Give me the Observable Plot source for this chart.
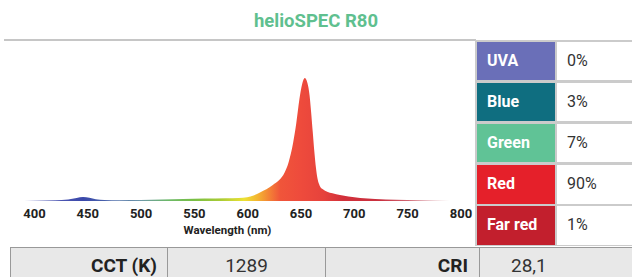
<!DOCTYPE html>
<html><head><meta charset="utf-8">
<script src="https://cdn.jsdelivr.net/npm/d3@7"></script>
<script src="https://cdn.jsdelivr.net/npm/@observablehq/plot@0.6"></script>
<style>
html,body{margin:0;padding:0}
body{width:632px;height:277px;overflow:hidden;background:#fff;font-family:Roboto,sans-serif;position:relative}
#title{position:absolute;left:0;top:10px;width:632px;text-align:center;font-weight:700;font-size:18.5px;line-height:22px;color:#5fc08f}
#rule{position:absolute;left:4px;top:38.5px;width:472px;height:2px;background:#c6c6c6}
#chart{position:absolute;left:0;top:42px}
#bands{position:absolute;left:475px;top:39.5px;width:157px;height:206px;background:#cbcbcb}
.lab{position:absolute;left:2px;width:78px;height:38.5px;line-height:38.5px;color:#fff;font-weight:700;font-size:16px;box-sizing:border-box;padding-left:10px}
.val{position:absolute;left:82px;width:75px;height:38.5px;line-height:38.5px;color:#333;font-size:16px;background:#fff;box-sizing:border-box;padding-left:10px}
#metrics{position:absolute;left:10px;top:246.5px;width:622px;height:40px;background:#e8e8e8;border-top:1px solid #999;border-left:1px solid #999}
.mc{position:absolute;top:0;height:36px;line-height:36px;font-size:19px;color:#333;box-sizing:border-box;border-right:1px solid #999}
</style>
</head><body>
<div id="title">helioSPEC R80</div>
<div id="rule"></div>
<div id="chart"></div>
<div id="bands"></div>
<div id="metrics"></div>
<script>
// Spectrum (relative intensity, peak = 1)
const wavelength = [382,400,420,432,440,446,452,458,466,480,500,520,540,560,580,592,600,606,612,618,624,630,635,639,643,646,649,651.5,654,656.5,658.5,660,661.5,663,664.5,666,668,671,675,680,687,695,706,720,740,760,780,800];
const intensity  = [0,0.003,0.006,0.012,0.025,0.033,0.027,0.014,0.009,0.007,0.008,0.012,0.017,0.02,0.022,0.025,0.03,0.045,0.07,0.095,0.13,0.17,0.23,0.32,0.47,0.63,0.83,0.95,1.0,0.96,0.86,0.72,0.56,0.4,0.27,0.18,0.125,0.095,0.076,0.062,0.048,0.036,0.024,0.016,0.01,0.006,0.003,0];
const xTicks = [400,450,500,550,600,650,700,750,800];
const axisLabel = "Wavelength (nm)";

// Band shares
const bandNames  = ["UVA","Blue","Green","Red","Far red"];
const bandShares = ["0%","3%","7%","90%","1%"];
const bandColors = ["#6a6fb8","#0f6e80","#60c396","#e5202a","#c21f2d"];

// Metrics
const metricNames  = ["CCT (K)","CRI"];
const metricValues = ["1289","28,1"];

// Spectral colour stops for the fill
const specStops = [[382,"#7a80c8"],[425,"#4c56b2"],[446,"#3a48aa"],[470,"#4a66ac"],[500,"#6f98a8"],[525,"#6cb86a"],[550,"#78bf45"],[575,"#a9cb35"],[597,"#ece233"],[610,"#f4b331"],[622,"#f37c36"],[631,"#f0553a"],[650,"#ee4b3c"],[672,"#e6423c"],[690,"#d2303a"],[725,"#c9303f"],[765,"#d4828e"],[800,"#e6caca"]];

const data = wavelength.map((nm, i) => ({nm, v: intensity[i]}));
const x0 = wavelength[0], x1 = wavelength[wavelength.length - 1];

const plot = Plot.plot({
  width: 476, height: 203,
  marginLeft: 14.8, marginRight: 15.6, marginTop: 36, marginBottom: 44,
  x: {domain: [x0, x1]},
  y: {domain: [0, 1], axis: null},
  style: "font-family:Roboto,sans-serif;font-size:12.5px;font-weight:700;color:#222;background:transparent;overflow:visible",
  marks: [
    Plot.areaY(data, {x: "nm", y: "v", fill: "url(#spec)", curve: "monotone-x"}),
    Plot.axisX({ticks: xTicks, tickSize: 0, tickPadding: 7.5, label: null, fontSize: 13, fontWeight: 700, fill: "#222"}),
    Plot.text([axisLabel], {frameAnchor: "bottom", dy: 32.5, dx: -10.6, fontSize: 11.5, fontWeight: 700, fill: "#222"})
  ]
});

const xs = plot.scale("x");
const ns = "http://www.w3.org/2000/svg";
const defs = document.createElementNS(ns, "defs");
const grad = document.createElementNS(ns, "linearGradient");
grad.setAttribute("id", "spec");
grad.setAttribute("gradientUnits", "userSpaceOnUse");
grad.setAttribute("x1", xs.apply(x0)); grad.setAttribute("x2", xs.apply(x1));
grad.setAttribute("y1", 0); grad.setAttribute("y2", 0);
specStops.forEach(([nm, c]) => {
  const s = document.createElementNS(ns, "stop");
  s.setAttribute("offset", (nm - x0) / (x1 - x0));
  s.setAttribute("stop-color", c);
  grad.appendChild(s);
});
defs.appendChild(grad);
plot.insertBefore(defs, plot.firstChild);
document.getElementById("chart").appendChild(plot);

// Band table
const bands = document.getElementById("bands");
bandNames.forEach((name, i) => {
  const top = 2 + i * 41.2;
  const l = document.createElement("div");
  l.className = "lab"; l.style.top = top + "px"; l.style.background = bandColors[i]; l.textContent = name;
  const v = document.createElement("div");
  v.className = "val"; v.style.top = top + "px"; v.textContent = bandShares[i];
  bands.appendChild(l); bands.appendChild(v);
});

// Metrics row
const metrics = document.getElementById("metrics");
const cells = [
  {text: metricNames[0], left: 0, width: 157, bold: true, align: "right", pad: "0 10px 0 0"},
  {text: metricValues[0], left: 157, width: 158, bold: false, align: "center", pad: "0"},
  {text: metricNames[1], left: 315, width: 154, bold: true, align: "right", pad: "0 11px 0 0"},
  {text: metricValues[1], left: 469, width: 160, bold: false, align: "left", pad: "0 0 0 31px", noBorder: true}
];
cells.forEach(c => {
  const d = document.createElement("div");
  d.className = "mc";
  d.style.left = c.left + "px"; d.style.width = c.width + "px";
  d.style.textAlign = c.align; d.style.padding = c.pad;
  if (c.bold) { d.style.fontWeight = 700; d.style.color = "#222"; }
  if (c.noBorder) d.style.borderRight = "none";
  d.textContent = c.text;
  metrics.appendChild(d);
});
</script>
</body></html>
